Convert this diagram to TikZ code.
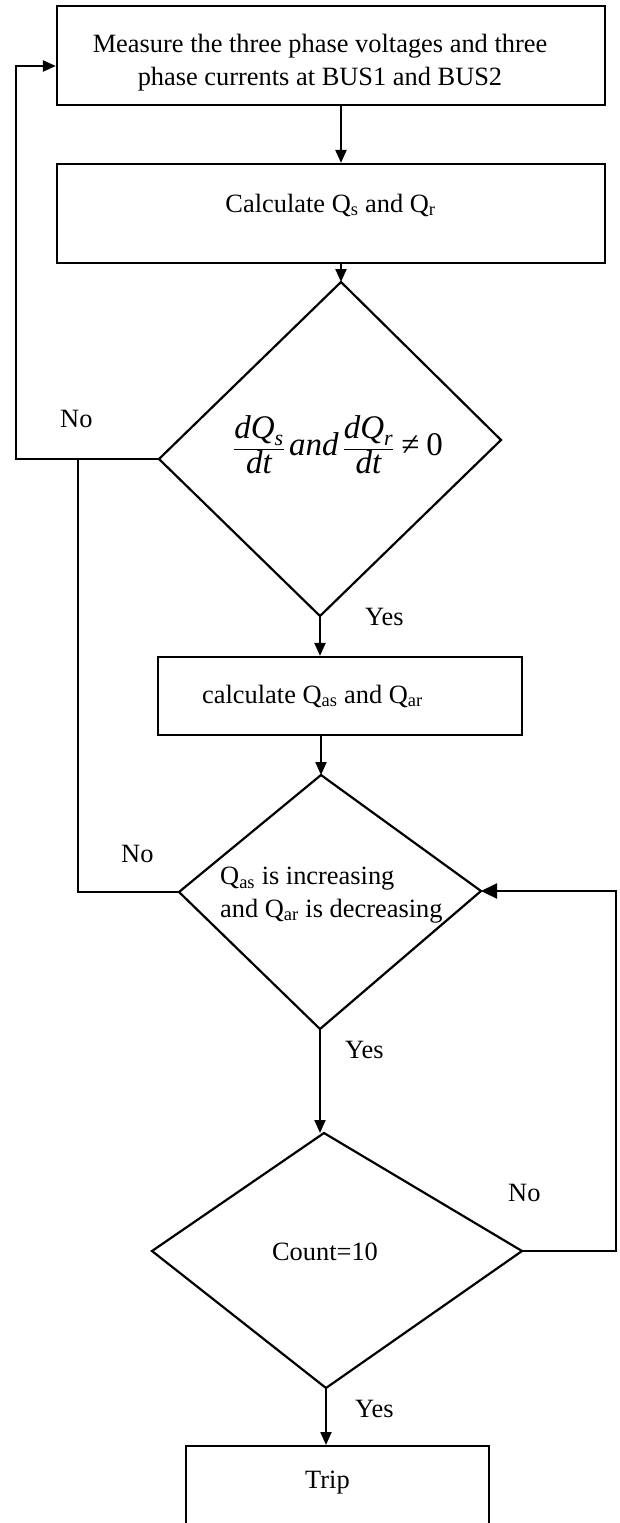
\documentclass[tikz,border=0pt]{standalone}
\usepackage{fontspec}
\setmainfont{Liberation Serif}
\usetikzlibrary{arrows.meta,calc}
\newcommand{\mainsz}{\fontsize{26.4}{32.5}\selectfont}
\newcommand{\mathsz}{\fontsize{33}{38}\selectfont}
\newcommand{\iv}[1]{\mbox{\mathsz\itshape #1}}
\newcommand{\isub}[1]{\mbox{\fontsize{22}{26}\selectfont\itshape #1}}
\begin{document}
\begin{tikzpicture}[x=1pt,y=-1pt,
  flowline/.style={line width=2.2pt},
  thinline/.style={line width=1.5pt},
  arr/.style={flowline,-{Triangle[length=13pt,width=11pt]}},
  bigarr/.style={flowline,-{Triangle[length=16pt,width=15pt]}},
  boxnode/.style={draw,flowline,rectangle,inner sep=0pt},
  txt/.style={font=\mainsz,inner sep=0pt},
]
\useasboundingbox (0,0) rectangle (619,1523);
\fill[white] (0,0) rectangle (619,1523);
\clip (0,0) rectangle (619,1523);

% boxes
\node[boxnode, minimum width=548pt, minimum height=99pt] (b1) at (331,55.5) {};
\node[boxnode, minimum width=548pt, minimum height=99pt] (b2) at (331,213.5) {};
\node[boxnode, minimum width=364pt, minimum height=78pt] (b3) at (340,696) {};
\node[boxnode, minimum width=303pt, minimum height=100pt, anchor=north] (trip) at (337.5,1445) {};

% diamond corners
\coordinate (d1t) at (341,282);
\coordinate (d1r) at (501,440);
\coordinate (d1b) at (320,616);
\coordinate (d1l) at (159,459);
\coordinate (d2t) at (321,775);
\coordinate (d2r) at (481,891);
\coordinate (d2b) at (320,1029);
\coordinate (d2l) at (179,892);
\coordinate (d3t) at (324,1133);
\coordinate (d3r) at (522,1251);
\coordinate (d3b) at (326,1388);
\coordinate (d3l) at (152,1251);

\draw[flowline, line join=miter] (d1t) -- (d1r) -- (d1b) -- (d1l) -- cycle;
\draw[flowline, line join=miter] (d2t) -- (d2r) -- (d2b) -- (d2l) -- cycle;
\draw[flowline, line join=miter] (d3t) -- (d3r) -- (d3b) -- (d3l) -- cycle;

% texts
\node[txt, align=center, anchor=base] (t1) at (320,85) {Measure the three phase voltages and three\\phase currents at BUS1 and BUS2};
\node[txt, anchor=base] (t2) at (330.5,212) {Calculate Q\textsubscript{s} and Q\textsubscript{r}};
\node[inner sep=0pt, font=\mathsz] (t3) at (338,445) {$\displaystyle\frac{\iv{dQ}_{\isub{s}}}{\iv{dt}}\,\iv{and}\,\frac{\iv{dQ}_{\isub{r}}}{\iv{dt}}\mathrel{\mbox{\mathsz ≠}}\mbox{\mathsz 0}$};
\node[txt, anchor=base west] (t4) at (202,703) {calculate Q\textsubscript{as} and Q\textsubscript{ar}};
\node[txt, align=left, anchor=base west] (t5) at (220,917) {Q\textsubscript{as} is increasing\\and Q\textsubscript{ar} is decreasing};
\node[txt, anchor=base] (t6) at (325,1260) {Count=10};
\node[txt, anchor=base] (t7) at (327.5,1488) {Trip};

% labels
\node[txt, anchor=base west] (n1) at (60,427) {No};
\node[txt, anchor=base west] (y1) at (365,625) {Yes};
\node[txt, anchor=base west] (n2) at (121,862) {No};
\node[txt, anchor=base west] (y2) at (345,1058) {Yes};
\node[txt, anchor=base west] (n3) at (508,1201) {No};
\node[txt, anchor=base west] (y3) at (355,1417) {Yes};

% connectors
\draw[arr] (d1t |- b1.south) -- (d1t |- b2.north);
\draw[arr] (d1t |- b2.south) -- (d1t);
\draw[arr] (d1b) -- (d1b |- b3.north);
\draw[arr] (d2t |- b3.south) -- (d2t);
\draw[arr] (d2b) -- (d2b |- d3t);
\draw[arr] (d3b) -- (d3b |- trip.north);

\coordinate (lpA) at (16,66);
\draw[arr] (d1l) -| (lpA) -- (lpA -| b1.west);
\coordinate (lpB) at (78,459);
\draw[thinline] (d2l) -| (lpB);
\coordinate (lpC) at (616,891);
\draw[bigarr] (d3r) -| (lpC) -- (d2r);
\end{tikzpicture}
\end{document}
